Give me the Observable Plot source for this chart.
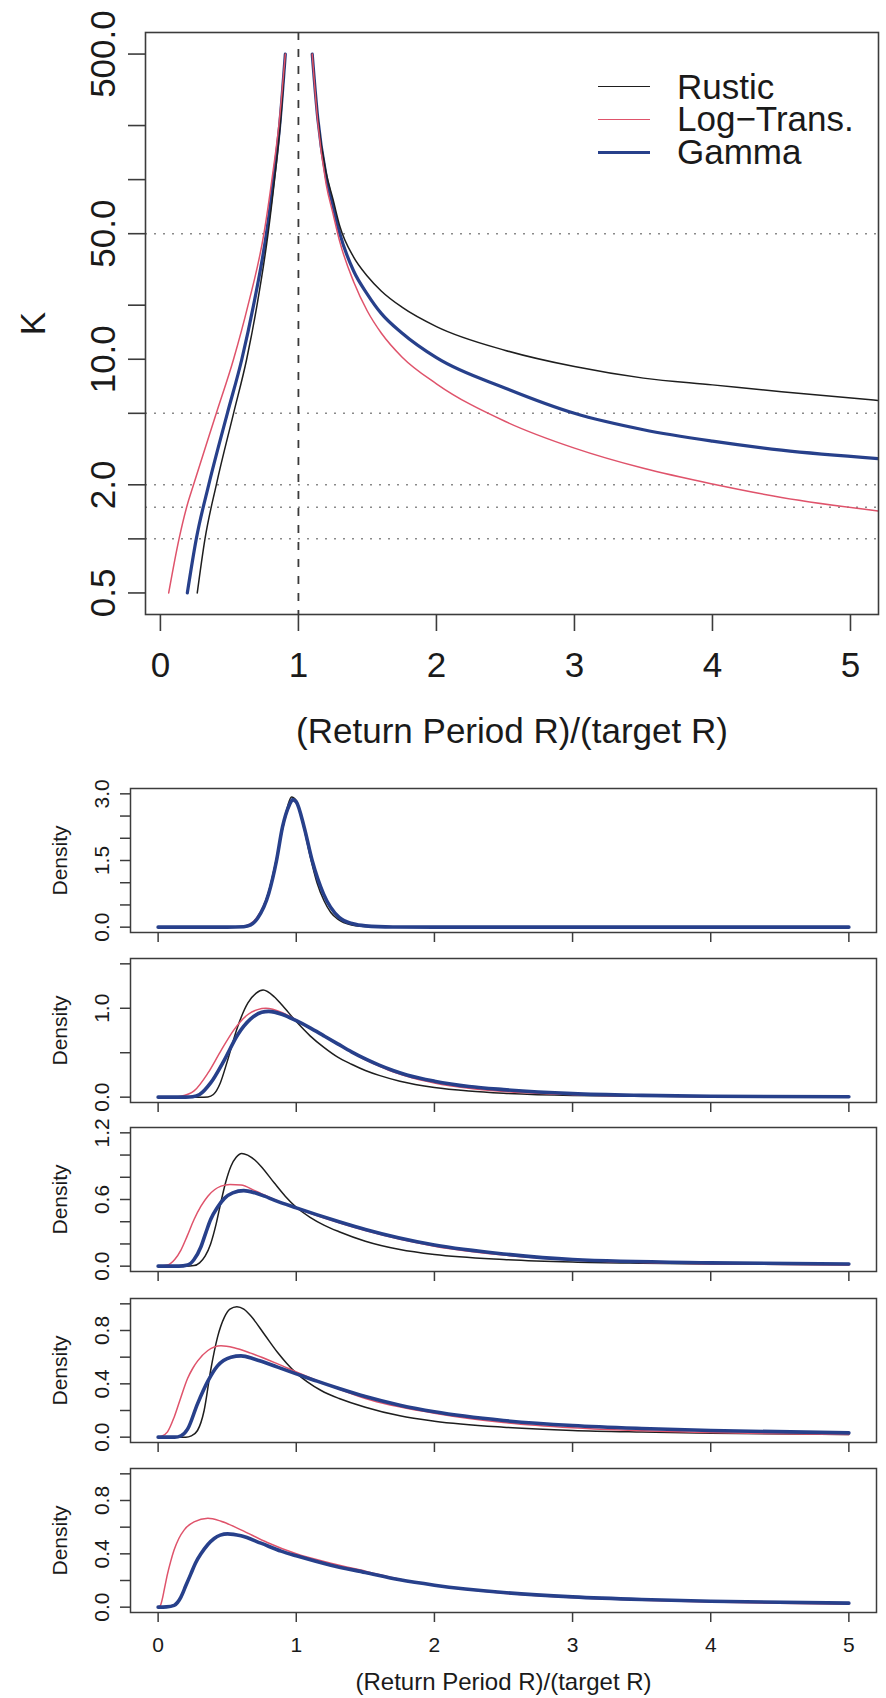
<!DOCTYPE html>
<html>
<head>
<meta charset="utf-8">
<script src="https://cdn.jsdelivr.net/npm/d3@7"></script>
<script src="https://cdn.jsdelivr.net/npm/@observablehq/plot@0.6"></script>
<style>
  html, body { margin: 0; padding: 0; background: #fff; }
  #wrap { position: relative; width: 886px; height: 1698px; overflow: hidden; font-family: "Liberation Sans", Arial, Helvetica, sans-serif; }
  .pane { position: absolute; left: 0; width: 886px; }
  .legend-row { position: absolute; left: 598px; height: 32px; display: flex; align-items: center; }
  .legend-row .sw { width: 52px; height: 0; }
  .legend-row .lab { position: absolute; left: 79px; top: 0; font-size: 35px; color: #1a1a1a; white-space: nowrap; line-height: 32px; height: 32px; }
</style>
</head>
<body>
<div id="wrap"></div>
<script>
// ---------------- DATA ----------------
const seriesNames = ["Rustic", "Log\u2212Trans.", "Gamma"];
const seriesColors = ["#1e1e1e", "#DF536B", "#27408B"];
const seriesWidths = [1.5, 1.5, 3.2];

// Top panel: K vs (Return Period R)/(target R), two branches around the pole at 1
const kRusticLeft  = [[0.267,0.5],[0.323,1],[0.405,2],[0.53,5],[0.625,10],[0.70,20],[0.78,50],[0.827,100],[0.868,200],[0.905,500]];
const kLogLeft     = [[0.06,0.5],[0.135,1],[0.19,1.5],[0.24,2],[0.405,5],[0.53,10],[0.635,20],[0.75,50],[0.808,100],[0.858,200],[0.905,500]];
const kGammaLeft   = [[0.195,0.5],[0.26,1],[0.35,2],[0.485,5],[0.59,10],[0.675,20],[0.768,50],[0.82,100],[0.864,200],[0.905,500]];
const kRusticRight = [[1.1,500],[1.14,220],[1.2,110],[1.25,78],[1.3,55],[1.4,37],[1.5,29],[1.6,24],[1.75,19.5],[2,15.2],[2.5,11.2],[3,9.1],[3.5,7.85],[4,7.2],[4.5,6.6],[5.2,5.9]];
const kLogRight    = [[1.1,500],[1.14,210],[1.2,95],[1.25,65],[1.3,45],[1.4,27],[1.5,18.5],[1.6,14],[1.75,10.3],[2,7.3],[2.5,4.5],[3,3.2],[3.5,2.47],[4,2.02],[4.5,1.7],[5.2,1.43]];
const kGammaRight  = [[1.1,500],[1.14,220],[1.2,105],[1.25,72],[1.3,50],[1.4,31],[1.5,23],[1.6,18],[1.75,14],[2,10.2],[2.5,6.9],[3,5.0],[3.5,4.05],[4,3.5],[4.5,3.12],[5.2,2.8]];

const xTicksTop = [0, 1, 2, 3, 4, 5];
const kTicks = [0.5, 1, 2, 5, 10, 20, 50, 100, 200, 500];
const kLabels = [0.5, 2, 10, 50, 500];
const kGuides = [1, 1.5, 2, 5, 50];
const xDomainTop = [-0.108, 5.203];
const kDomainTop = [0.3793, 659.2];
const xTitle = "(Return Period R)/(target R)";

// Bottom panels: densities
const d1Rustic = [[0,0],[0.5,0],[0.62,0.01],[0.7,0.12],[0.75,0.38],[0.8,0.8],[0.85,1.45],[0.9,2.2],[0.94,2.75],[0.965,2.93],[1.0,2.85],[1.05,2.3],[1.1,1.6],[1.15,1.0],[1.2,0.6],[1.25,0.33],[1.3,0.18],[1.4,0.05],[1.5,0.015],[1.7,0],[5,0]];
const d1Log    = [[0,0],[0.5,0],[0.6,0.01],[0.66,0.06],[0.72,0.24],[0.8,0.78],[0.857,1.5],[0.9,2.2],[0.95,2.72],[0.975,2.85],[1.0,2.8],[1.057,2.25],[1.115,1.5],[1.2,0.72],[1.31,0.23],[1.41,0.08],[1.5,0.035],[1.7,0.008],[2,0],[5,0]];
const d1Gamma  = [[0,0],[0.5,0],[0.62,0.01],[0.67,0.05],[0.72,0.2],[0.8,0.75],[0.857,1.5],[0.9,2.25],[0.95,2.75],[0.975,2.87],[1.0,2.82],[1.057,2.25],[1.115,1.5],[1.197,0.75],[1.31,0.22],[1.41,0.075],[1.5,0.03],[1.7,0.005],[2,0],[5,0]];

const d2Rustic = [[0,0],[0.3,0],[0.36,0.003],[0.4,0.03],[0.45,0.16],[0.5,0.4],[0.575,0.79],[0.65,1.06],[0.71,1.17],[0.76,1.205],[0.84,1.13],[0.9,1.03],[1.0,0.85],[1.1,0.69],[1.2,0.56],[1.3,0.45],[1.4,0.37],[1.5,0.3],[1.6,0.245],[1.75,0.18],[2,0.11],[2.25,0.07],[2.5,0.045],[3,0.02],[4,0.006],[5,0.002]];
const d2Log    = [[0,0],[0.1,0],[0.165,0.01],[0.26,0.07],[0.36,0.27],[0.45,0.51],[0.55,0.76],[0.65,0.93],[0.72,0.985],[0.78,1.0],[0.9,0.95],[1.0,0.87],[1.1,0.78],[1.2,0.69],[1.3,0.595],[1.4,0.505],[1.5,0.42],[1.6,0.35],[1.7,0.285],[1.8,0.235],[2,0.16],[2.25,0.1],[2.5,0.065],[3,0.028],[3.5,0.012],[4,0.006],[5,0.002]];
const d2Gamma  = [[0,0],[0.2,0],[0.25,0.005],[0.3,0.03],[0.38,0.16],[0.48,0.42],[0.575,0.7],[0.67,0.88],[0.75,0.955],[0.8,0.965],[0.9,0.93],[1.0,0.86],[1.1,0.78],[1.2,0.69],[1.3,0.6],[1.4,0.51],[1.5,0.43],[1.6,0.36],[1.7,0.3],[1.8,0.25],[2,0.18],[2.25,0.12],[2.5,0.085],[3,0.04],[3.5,0.02],[4,0.01],[5,0.004]];

const d3Rustic = [[0,0],[0.2,0],[0.26,0.005],[0.3,0.03],[0.34,0.09],[0.38,0.2],[0.42,0.38],[0.455,0.58],[0.49,0.76],[0.527,0.9],[0.565,0.98],[0.605,1.015],[0.648,1.0],[0.7,0.955],[0.744,0.9],[0.84,0.75],[0.92,0.63],[1.0,0.53],[1.1,0.44],[1.2,0.37],[1.31,0.31],[1.5,0.225],[1.75,0.15],[2,0.105],[2.5,0.06],[3,0.037],[3.5,0.026],[4,0.019],[5,0.012]];
const d3Log    = [[0,0],[0.02,0.001],[0.068,0.01],[0.12,0.06],[0.165,0.145],[0.21,0.27],[0.26,0.42],[0.31,0.54],[0.36,0.63],[0.455,0.72],[0.52,0.735],[0.6,0.73],[0.7,0.68],[0.84,0.6],[1.0,0.52],[1.31,0.39],[1.5,0.32],[2,0.18],[2.5,0.1],[3,0.055],[4,0.02],[5,0.01]];
const d3Gamma  = [[0,0],[0.15,0],[0.213,0.01],[0.26,0.06],[0.31,0.175],[0.345,0.3],[0.38,0.42],[0.43,0.53],[0.48,0.61],[0.54,0.66],[0.62,0.68],[0.7,0.66],[0.77,0.63],[0.84,0.595],[1.0,0.525],[1.31,0.4],[1.5,0.33],[2,0.19],[2.5,0.11],[3,0.06],[4,0.03],[5,0.02]];

const d4Rustic = [[0,0],[0.2,0],[0.24,0.01],[0.285,0.05],[0.333,0.2],[0.38,0.5],[0.43,0.75],[0.48,0.9],[0.52,0.96],[0.57,0.978],[0.62,0.96],[0.67,0.91],[0.77,0.77],[0.865,0.635],[0.93,0.555],[1.0,0.48],[1.08,0.415],[1.18,0.35],[1.31,0.29],[1.5,0.225],[1.75,0.16],[2,0.12],[2.5,0.075],[3,0.05],[3.5,0.038],[4,0.03],[5,0.02]];
const d4Log    = [[0,0],[0.02,0.005],[0.068,0.04],[0.116,0.15],[0.165,0.3],[0.213,0.44],[0.25,0.515],[0.285,0.57],[0.36,0.65],[0.455,0.685],[0.55,0.67],[0.67,0.63],[0.865,0.55],[1.0,0.49],[1.31,0.36],[1.5,0.29],[2,0.18],[2.5,0.11],[3,0.07],[4,0.035],[5,0.02]];
const d4Gamma  = [[0,0],[0.12,0],[0.165,0.01],[0.213,0.06],[0.285,0.25],[0.36,0.42],[0.43,0.535],[0.527,0.6],[0.6,0.61],[0.7,0.585],[0.865,0.525],[1.0,0.475],[1.15,0.42],[1.31,0.365],[1.5,0.305],[1.75,0.24],[2,0.19],[2.5,0.125],[3,0.087],[3.5,0.065],[4,0.05],[5,0.032]];

const d5Log    = [[0,0],[0.015,0.01],[0.03,0.06],[0.044,0.13],[0.068,0.25],[0.09,0.34],[0.116,0.43],[0.15,0.515],[0.189,0.58],[0.26,0.64],[0.36,0.667],[0.455,0.645],[0.6,0.58],[0.79,0.485],[1.0,0.4],[1.25,0.33],[1.5,0.27],[1.75,0.21],[2,0.165],[2.5,0.105],[3,0.072],[3.5,0.052],[4,0.038],[5,0.022]];
const d5Gamma  = [[0,0],[0.06,0.002],[0.116,0.013],[0.14,0.035],[0.165,0.076],[0.2,0.16],[0.237,0.25],[0.27,0.33],[0.31,0.4],[0.36,0.47],[0.406,0.515],[0.45,0.54],[0.503,0.55],[0.6,0.535],[0.744,0.48],[0.89,0.42],[1.0,0.385],[1.25,0.315],[1.5,0.26],[1.75,0.205],[2,0.165],[2.5,0.11],[3,0.077],[3.5,0.057],[4,0.044],[5,0.03]];

const xTicksBottom = [0, 1, 2, 3, 4, 5];
const densityYMax = [3, 1.5, 1.2, 1, 1];
const densityTicks = [
  [0, 0.5, 1, 1.5, 2, 2.5, 3],
  [0, 0.5, 1, 1.5],
  [0, 0.2, 0.4, 0.6, 0.8, 1.0, 1.2],
  [0, 0.2, 0.4, 0.6, 0.8, 1.0],
  [0, 0.2, 0.4, 0.6, 0.8, 1.0]
];
const densityLabels = [
  [0, 1.5, 3],
  [0, 1],
  [0, 0.6, 1.2],
  [0, 0.4, 0.8],
  [0, 0.4, 0.8]
];
const densitySeries = [
  [d1Rustic, d1Log, d1Gamma],
  [d2Rustic, d2Log, d2Gamma],
  [d3Rustic, d3Log, d3Gamma],
  [d4Rustic, d4Log, d4Gamma],
  [null, d5Log, d5Gamma]
];

// ---------------- LAYOUT ----------------
const FONT = '"Liberation Sans", Arial, Helvetica, sans-serif';
const INK = "#1a1a1a";
const FRAME = "#3c3c3c";
const wrap = document.getElementById("wrap");

function toRows(pts, series, branch) {
  return pts.map(([x, y]) => ({ x, y, series, branch }));
}
function addPane(node, top) {
  const div = document.createElement("div");
  div.className = "pane";
  div.style.top = top + "px";
  div.appendChild(node);
  wrap.appendChild(div);
}

// ---------- Top plot ----------
const topRows = [
  toRows(kRusticLeft, 0, "L").concat(toRows(kRusticRight, 0, "R")),
  toRows(kLogLeft, 1, "L").concat(toRows(kLogRight, 1, "R")),
  toRows(kGammaLeft, 2, "L").concat(toRows(kGammaRight, 2, "R"))
];
const drawOrder = [2, 0, 1];

const topPlot = Plot.plot({
  width: 886, height: 770,
  marginLeft: 145, marginRight: 8, marginTop: 32, marginBottom: 156,
  style: { fontFamily: FONT, background: "transparent", color: INK, overflow: "visible" },
  x: { domain: xDomainTop, label: null },
  y: { type: "log", domain: kDomainTop, label: null },
  marks: [
    Plot.ruleY(kGuides, { stroke: "#8a8a8a", strokeWidth: 1.5, strokeDasharray: "2,7" }),
    Plot.ruleX([1], { stroke: "#3a3a3a", strokeWidth: 1.8, strokeDasharray: "8,9" }),
    ...drawOrder.map(i => Plot.line(topRows[i], {
      x: "x", y: "y", z: "branch", stroke: seriesColors[i], strokeWidth: seriesWidths[i], curve: "monotone-x", clip: true
    })),
    Plot.frame({ stroke: FRAME, strokeWidth: 1.6 }),
    Plot.axisX(xTicksTop, { tickSize: 17, tickFormat: () => "", stroke: FRAME, strokeWidth: 1.6, label: null }),
    Plot.axisY(kTicks, { tickSize: 17, tickFormat: () => "", stroke: FRAME, strokeWidth: 1.6, label: null }),
    Plot.text(xTicksTop, { x: d => d, frameAnchor: "bottom", dy: 62, lineAnchor: "bottom", text: d => String(d), fontSize: 35, fill: INK }),
    Plot.text(kLabels, { y: d => d, frameAnchor: "left", dx: -31, rotate: -90, textAnchor: "middle", lineAnchor: "bottom", text: d => d.toFixed(1), fontSize: 35, fill: INK }),
    Plot.text(["K"], { frameAnchor: "left", dx: -112, rotate: -90, textAnchor: "middle", lineAnchor: "middle", text: d => d, fontSize: 35, fill: INK }),
    Plot.text([xTitle], { frameAnchor: "bottom", dy: 128, lineAnchor: "bottom", text: d => d, fontSize: 35, fill: INK })
  ]
});
addPane(topPlot, 0);

// Legend (top-right inside the top panel)
const legendY = [86.7, 119.3, 152.3];
seriesNames.forEach((name, i) => {
  const row = document.createElement("div");
  row.className = "legend-row";
  row.style.top = (legendY[i] - 16) + "px";
  const sw = document.createElement("div");
  sw.className = "sw";
  sw.style.borderTop = `${seriesWidths[i]}px solid ${seriesColors[i]}`;
  const lab = document.createElement("div");
  lab.className = "lab";
  lab.textContent = name;
  row.appendChild(sw);
  row.appendChild(lab);
  wrap.appendChild(row);
});

// ---------- Density panels ----------
const panelTops = [788, 958, 1127, 1298, 1468];
const panelH = 144;
densitySeries.forEach((sers, p) => {
  const last = p === densitySeries.length - 1;
  const mt = 8, mb = last ? 86 : 14;
  const hi = densityYMax[p];
  const ext = 0.04 * hi;
  const marks = [];
  [0, 1, 2].forEach(i => {
    if (!sers[i]) return;
    marks.push(Plot.line(toRows(sers[i], i, "all"), {
      x: "x", y: "y", stroke: seriesColors[i], strokeWidth: seriesWidths[i] + (i === 2 ? 0.4 : 0), curve: "monotone-x"
    }));
  });
  marks.push(
    Plot.frame({ stroke: FRAME, strokeWidth: 1.5 }),
    Plot.axisX(xTicksBottom, { tickSize: 10, tickFormat: () => "", stroke: FRAME, strokeWidth: 1.5, label: null }),
    Plot.axisY(densityTicks[p], { tickSize: 10, tickFormat: () => "", stroke: FRAME, strokeWidth: 1.5, label: null }),
    Plot.text(densityLabels[p], { y: d => d, frameAnchor: "left", dx: -22, rotate: -90, textAnchor: "middle", lineAnchor: "bottom", text: d => d.toFixed(1), fontSize: 21, fill: INK }),
    Plot.text(["Density"], { frameAnchor: "left", dx: -70, rotate: -90, textAnchor: "middle", lineAnchor: "middle", text: d => d, fontSize: 21, fill: INK })
  );
  if (last) {
    marks.push(
      Plot.text(xTicksBottom, { x: d => d, frameAnchor: "bottom", dy: 39, lineAnchor: "bottom", text: d => String(d), fontSize: 21, fill: INK }),
      Plot.text([xTitle], { frameAnchor: "bottom", dy: 77, lineAnchor: "bottom", text: d => d, fontSize: 24, fill: INK })
    );
  }
  const plot = Plot.plot({
    width: 886, height: mt + panelH + mb,
    marginLeft: 130, marginRight: 10, marginTop: mt, marginBottom: mb,
    style: { fontFamily: FONT, background: "transparent", color: INK, overflow: "visible" },
    x: { domain: [-0.2, 5.2], label: null },
    y: { domain: [0 - ext, hi + ext], label: null },
    marks
  });
  addPane(plot, panelTops[p] - mt);
});
</script>
</body>
</html>
